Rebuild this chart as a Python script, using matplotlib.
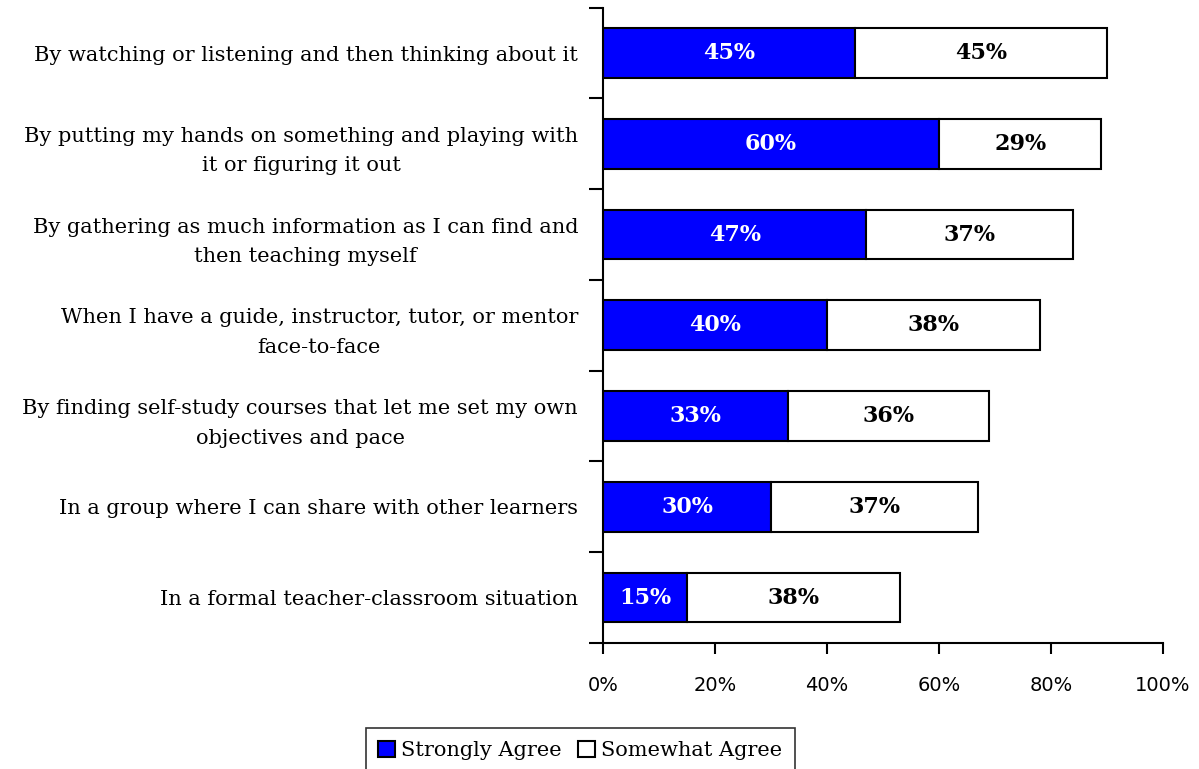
import matplotlib.pyplot as plt
import numpy as np
from matplotlib.ticker import FixedLocator, PercentFormatter

# categories, top to bottom
labels = [
    'By watching or listening and then thinking about it',
    'By putting my hands on something and playing with\nit or figuring it out',
    'By gathering as much information as I can find and\nthen teaching myself',
    'When I have a guide, instructor, tutor, or mentor\nface-to-face',
    'By finding self-study courses that let me set my own\nobjectives and pace',
    'In a group where I can share with other learners',
    'In a formal teacher-classroom situation',
]
strongly = [45, 60, 47, 40, 33, 30, 15]
somewhat = [45, 29, 37, 38, 36, 37, 38]

fig = plt.figure(figsize=(11.99, 7.69), dpi=100)
ax = fig.add_axes([0.503, 0.164, 0.467, 0.826])

y = np.arange(len(labels))
b1 = ax.barh(y, strongly, height=0.55, color='#0000FF', edgecolor='black', linewidth=1.5,
             label='Strongly Agree')
b2 = ax.barh(y, somewhat, left=strongly, height=0.55, color='white', edgecolor='black',
             linewidth=1.5, label='Somewhat Agree')

for rect, v in zip(b1, strongly):
    ax.text(rect.get_x() + rect.get_width() / 2, rect.get_y() + rect.get_height() / 2,
            f'{v}%', ha='center', va='center', color='white', fontsize=16,
            fontweight='bold', family='DejaVu Serif')
for rect, v in zip(b2, somewhat):
    ax.text(rect.get_x() + rect.get_width() / 2, rect.get_y() + rect.get_height() / 2,
            f'{v}%', ha='center', va='center', color='black', fontsize=16,
            fontweight='bold', family='DejaVu Serif')

ax.set_xlim(0, 100)
ax.set_ylim(len(labels) - 0.5, -0.5)
ax.xaxis.set_major_locator(FixedLocator([0, 20, 40, 60, 80, 100]))
ax.xaxis.set_major_formatter(PercentFormatter(decimals=0))
ax.tick_params(axis='x', length=8, width=1.5, pad=16, labelsize=14)

ax.set_yticks(y)
ax.set_yticklabels(labels, family='DejaVu Serif', fontsize=15, multialignment='center',
                   linespacing=1.7)
ax.tick_params(axis='y', which='major', length=0, pad=18)
ax.yaxis.set_minor_locator(FixedLocator(np.arange(-0.5, len(labels), 1)))
ax.tick_params(axis='y', which='minor', length=10, width=1.5)

for s in ['top', 'right']:
    ax.spines[s].set_visible(False)
ax.spines['left'].set_linewidth(1.5)
ax.spines['bottom'].set_linewidth(1.5)

leg = fig.legend(loc='lower center', bbox_to_anchor=(0.484, -0.018), ncol=2,
                 prop={'family': 'DejaVu Serif', 'size': 15}, frameon=True,
                 fancybox=False, edgecolor='black', handlelength=0.8, handleheight=0.8,
                 handletextpad=0.3, columnspacing=0.8, borderpad=0.6)
leg.get_frame().set_linewidth(1.2)

fig.savefig('out.png', dpi=100)
